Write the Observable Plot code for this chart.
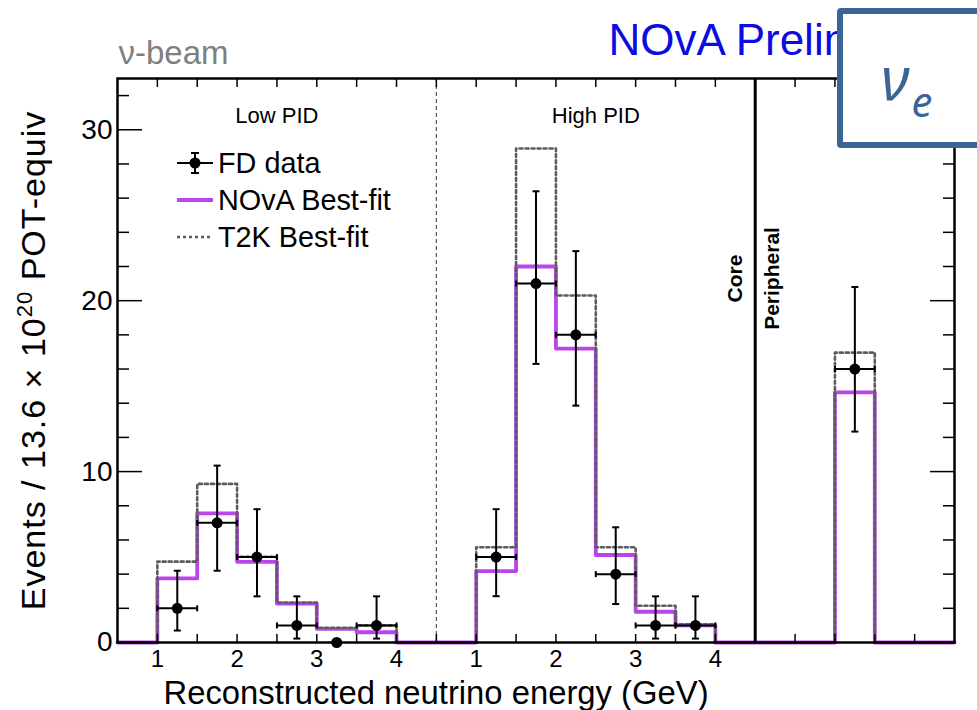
<!DOCTYPE html>
<html>
<head>
<meta charset="utf-8">
<script src="https://cdn.jsdelivr.net/npm/d3@7"></script>
<script src="https://cdn.jsdelivr.net/npm/@observablehq/plot@0.6"></script>
<style>
  body { margin: 0; background: #fff; }
  #wrap { position: relative; width: 977px; height: 710px; overflow: hidden; font-family: "Liberation Sans", Arial, sans-serif; }
  #wrap > svg { position: absolute; left: 0; top: 0; }
  #box { position: absolute; left: 837px; top: 8px; width: 200px; height: 128px; border: 6px solid #3c6496; border-radius: 4px; background: #fff; }
  #overlay { position: absolute; left: 0; top: 0; }
</style>
</head>
<body>
<div id="wrap"></div>
<script>
// ---------------- data ----------------
const binWidth = 0.5;                 // GeV
const highOffset = 4;                 // High PID block drawn after Low PID on the shared axis
const lowBinStart  = [1, 1.5, 2, 2.5, 3, 3.5];
const lowNova      = [3.75, 7.56, 4.72, 2.28, 0.8, 0.6];
const lowT2K       = [4.73, 9.28, 5.02, 2.34, 0.86, 1.0];
const highBinStart = [1, 1.5, 2, 2.5, 3, 3.5];
const highNova     = [4.18, 22.0, 17.2, 5.12, 1.8, 1.0];
const highT2K      = [5.57, 28.9, 20.3, 5.57, 2.15, 1.07];
const periBinStart = [9.5];           // position on the shared axis
const periNova     = [14.64];
const periT2K      = [16.96];

const lowDataE   = [1.25, 1.75, 2.25, 2.75, 3.25, 3.75];
const lowData    = [2, 7, 5, 1, 0, 1];
const lowDataLo  = [0.7, 4.2, 2.7, 0.23, 0, 0.23];
const lowDataHi  = [4.2, 10.35, 7.8, 2.7, 0, 2.7];
const highDataE  = [1.25, 1.75, 2.25, 2.75, 3.25, 3.75];
const highData   = [5, 21, 18, 4, 1, 1];
const highDataLo = [2.71, 16.3, 13.86, 2.25, 0.23, 0.23];
const highDataHi = [7.8, 26.4, 22.9, 6.74, 2.7, 2.7];
const periDataX  = [9.75];
const periData   = [16];
const periDataLo = [12.34];
const periDataHi = [20.8];

const xDomain = [0.5, 11];
const yDomain = [0, 33];
const yMajor = [0, 10, 20, 30];
const yMinor = [2, 4, 6, 8, 12, 14, 16, 18, 22, 24, 26, 28, 32];
const xTicks = d3.range(1, 11, 0.5);
const xLabelPos  = [1, 2, 3, 4, 5, 6, 7, 8];
const xLabelText = ["1", "2", "3", "4", "1", "2", "3", "4"];
const regionNames = ["Low PID", "High PID"];
const regionCenters = [2.5, 6.5];
const pidBoundary = [4.5];
const corePeriBoundary = [8.5];
const legendLabels = ["FD data", "NOvA Best-fit", "T2K Best-fit"];
const yLabel = "Events / 13.6 × 10^20 POT-equiv";
const xLabel = "Reconstructed neutrino energy (GeV)";

const novaColor = "#bb45ea";
const t2kColor = "#5c5c5c";

// ---------------- build series ----------------
function binMap(vLow, vHigh, vPeri) {
  const m = new Map();
  lowBinStart.forEach((e, i) => m.set(e, vLow[i]));
  highBinStart.forEach((e, i) => m.set(e + highOffset, vHigh[i]));
  periBinStart.forEach((e, i) => m.set(e, vPeri[i]));
  return m;
}
function steps(m) {
  const pts = [];
  for (let x = xDomain[0]; x < xDomain[1]; x += binWidth) pts.push({x, v: m.get(x) ?? 0});
  pts.push({x: xDomain[1], v: 0});
  return pts;
}
const novaSteps = steps(binMap(lowNova, highNova, periNova));
const t2kSteps = steps(binMap(lowT2K, highT2K, periT2K));

const points = [
  ...lowDataE.map((e, i) => ({x: e, y: lowData[i], lo: lowDataLo[i], hi: lowDataHi[i]})),
  ...highDataE.map((e, i) => ({x: e + highOffset, y: highData[i], lo: highDataLo[i], hi: highDataHi[i]})),
  ...periDataX.map((x, i) => ({x, y: periData[i], lo: periDataLo[i], hi: periDataHi[i]}))
];
const withErr = points.filter(d => d.hi > d.lo);
const capH = {draw(ctx, size) { const r = Math.sqrt(size / Math.PI); ctx.moveTo(-r, 0); ctx.lineTo(r, 0); }};
const capV = {draw(ctx, size) { const r = Math.sqrt(size / Math.PI); ctx.moveTo(0, -r); ctx.lineTo(0, r); }};

// ---------------- plot ----------------
const chart = Plot.plot({
  width: 977, height: 710,
  marginLeft: 117, marginRight: 23, marginTop: 78, marginBottom: 68,
  x: {domain: xDomain},
  y: {domain: yDomain},
  style: {fontFamily: "Liberation Sans, Arial, sans-serif", fontSize: "28px", color: "black", background: "white", overflow: "visible"},
  marks: [
    Plot.ruleX(pidBoundary, {stroke: "#555", strokeWidth: 1.2, strokeDasharray: "4,3"}),
    Plot.line(novaSteps, {x: "x", y: "v", curve: "step-after", stroke: novaColor, strokeWidth: 3.8}),
    Plot.line(t2kSteps, {x: "x", y: "v", curve: "step-after", stroke: t2kColor, strokeWidth: 2.6, strokeDasharray: "3,3"}),
    Plot.ruleX(corePeriBoundary, {stroke: "black", strokeWidth: 3}),
    // axes (ticks inward)
    Plot.axisY(yMajor, {anchor: "left", tickSize: -25, fill: "none", label: null, strokeWidth: 1.5}),
    Plot.axisY(yMinor, {anchor: "left", tickSize: -12, fill: "none", label: null, strokeWidth: 1.5}),
    Plot.axisY(yMajor, {anchor: "right", tickSize: -25, fill: "none", label: null, strokeWidth: 1.5}),
    Plot.axisY(yMinor, {anchor: "right", tickSize: -12, fill: "none", label: null, strokeWidth: 1.5}),
    Plot.axisX(xTicks, {anchor: "bottom", tickSize: -8, fill: "none", label: null, strokeWidth: 1.5}),
    Plot.axisX(xTicks, {anchor: "top", tickSize: -8, fill: "none", label: null, strokeWidth: 1.5}),
    Plot.axisY(yMajor, {anchor: "left", tickSize: 0, tickPadding: 5, fontSize: 28, label: null}),
    Plot.axisX(xLabelPos, {anchor: "bottom", tickSize: 0, tickPadding: 7, fontSize: 24, label: null,
      tickFormat: d => xLabelText[xLabelPos.indexOf(d)]}),
    Plot.frame({stroke: "black", strokeWidth: 2.5}),
    // data with error bars
    Plot.ruleX(withErr, {x: "x", y1: "lo", y2: "hi", stroke: "black", strokeWidth: 2}),
    Plot.ruleY(withErr, {y: "y", x1: d => d.x - binWidth / 2, x2: d => d.x + binWidth / 2, stroke: "black", strokeWidth: 2}),
    Plot.dot(withErr, {x: "x", y: "lo", symbol: capH, r: 3.5, stroke: "black", fill: "none", strokeWidth: 2}),
    Plot.dot(withErr, {x: "x", y: "hi", symbol: capH, r: 3.5, stroke: "black", fill: "none", strokeWidth: 2}),
    Plot.dot(withErr, {x: d => d.x - binWidth / 2, y: "y", symbol: capV, r: 3, stroke: "black", fill: "none", strokeWidth: 2}),
    Plot.dot(withErr, {x: d => d.x + binWidth / 2, y: "y", symbol: capV, r: 3, stroke: "black", fill: "none", strokeWidth: 2}),
    Plot.dot(points, {x: "x", y: "y", r: 5.5, fill: "black"}),
    // annotations
    Plot.text(regionNames, {x: (d, i) => regionCenters[i], y: 30.8, fontSize: 22, fill: "black"}),
    Plot.text(["Core"], {x: corePeriBoundary, y: 21.3, dx: -20, rotate: -90, fontSize: 21, fontWeight: "bold"}),
    Plot.text(["Peripheral"], {x: corePeriBoundary, y: 21.3, dx: 17, rotate: -90, fontSize: 21, fontWeight: "bold"}),
    Plot.text(["ν-beam"], {frameAnchor: "top-left", dx: 1, dy: -15, textAnchor: "start", lineAnchor: "bottom", fontSize: 33, fill: "#7f7f7f"}),
    Plot.text(["NOvA Preliminary"], {frameAnchor: "top-left", dx: 491, dy: -24, textAnchor: "start", lineAnchor: "bottom", fontSize: 44, fill: "#0c0ce0"}),
    Plot.text([yLabel], {frameAnchor: "left", dx: -83, rotate: -90, textAnchor: "middle", lineAnchor: "middle", fontSize: 34}),
    Plot.text([xLabel], {frameAnchor: "bottom-left", dx: 46, dy: 61, textAnchor: "start", lineAnchor: "bottom", fontSize: 32.8})
  ]
});
const wrap = document.getElementById("wrap");
wrap.appendChild(chart);

// superscript in the y label
const yl = Array.from(chart.querySelectorAll("text")).find(t => t.textContent === yLabel);
if (yl) {
  const [pre, post] = yLabel.split("^20");
  yl.textContent = "";
  yl.setAttribute("letter-spacing", "1");
  const ns = "http://www.w3.org/2000/svg";
  const t1 = document.createElementNS(ns, "tspan"); t1.textContent = pre;
  const t2 = document.createElementNS(ns, "tspan"); t2.textContent = "20"; t2.setAttribute("dy", "-13"); t2.setAttribute("font-size", "22");
  const t3 = document.createElementNS(ns, "tspan"); t3.textContent = post; t3.setAttribute("dy", "13");
  yl.append(t1, t2, t3);
}

// nu_e box
const box = document.createElement("div"); box.id = "box"; wrap.appendChild(box);

// legend + box text overlay
const ov = d3.select(wrap).append("svg").attr("id", "overlay").attr("width", 977).attr("height", 710)
  .style("font-family", "Liberation Sans, Arial, sans-serif");
const rowY = [163, 200, 237];
const lg = ov.append("g");
lg.append("line").attr("x1", 177).attr("x2", 213).attr("y1", rowY[0]).attr("y2", rowY[0]).attr("stroke", "black").attr("stroke-width", 2);
lg.append("line").attr("x1", 195).attr("x2", 195).attr("y1", rowY[0] - 10).attr("y2", rowY[0] + 10).attr("stroke", "black").attr("stroke-width", 2);
lg.append("line").attr("x1", 191).attr("x2", 199).attr("y1", rowY[0] - 10).attr("y2", rowY[0] - 10).attr("stroke", "black").attr("stroke-width", 2);
lg.append("line").attr("x1", 191).attr("x2", 199).attr("y1", rowY[0] + 10).attr("y2", rowY[0] + 10).attr("stroke", "black").attr("stroke-width", 2);
lg.append("circle").attr("cx", 195).attr("cy", rowY[0]).attr("r", 5.5).attr("fill", "black");
lg.append("line").attr("x1", 177).attr("x2", 213).attr("y1", rowY[1]).attr("y2", rowY[1]).attr("stroke", novaColor).attr("stroke-width", 3.8);
lg.append("line").attr("x1", 177).attr("x2", 213).attr("y1", rowY[2]).attr("y2", rowY[2]).attr("stroke", t2kColor).attr("stroke-width", 2.6).attr("stroke-dasharray", "3,3");
legendLabels.forEach((l, i) => {
  lg.append("text").attr("x", 218).attr("y", rowY[i]).attr("dy", "0.36em").attr("font-size", 28.8).attr("fill", "black").text(l);
});
const nu = ov.append("text").attr("x", 881).attr("y", 100).attr("fill", "#3c6496")
  .style("font-family", "Noto Sans, sans-serif").style("font-style", "italic");
nu.append("tspan").attr("font-size", 60).text("ν");
nu.append("tspan").attr("font-size", 42).attr("dy", 17).attr("dx", 2).text("e");
</script>
</body>
</html>
